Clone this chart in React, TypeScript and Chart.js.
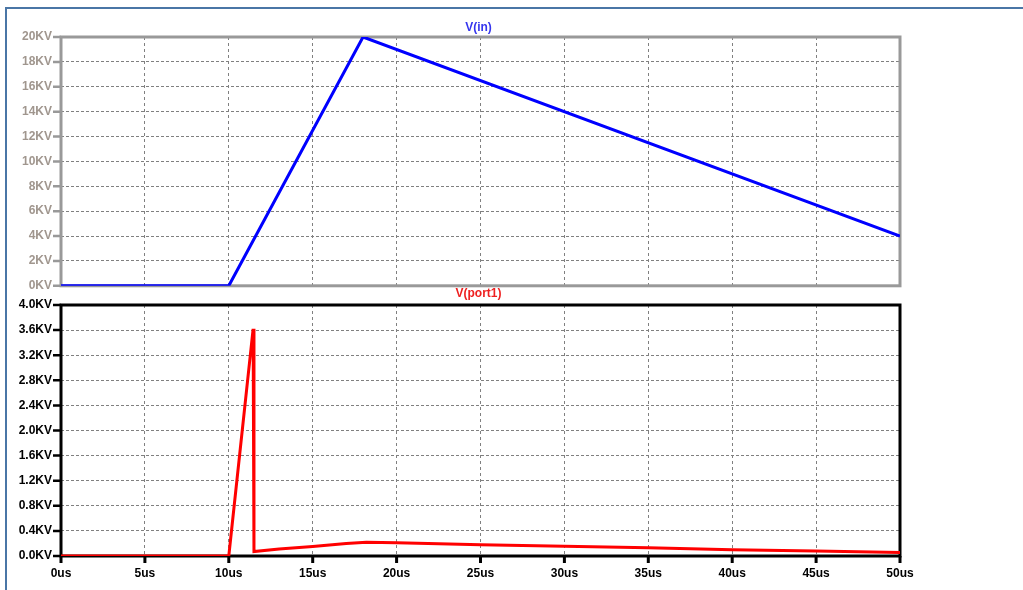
import React, { useEffect, useRef } from "react";
import { Chart, registerables } from "chart.js";

Chart.register(...registerables);

// ---- data ----
const timeIn = [0, 10, 18, 50];
const vIn = [0, 0, 20, 4];

const timePort = [0, 10, 11.45, 11.5, 13, 15, 17, 18.2, 20, 25, 30, 35, 40, 45, 50];
const vPort = [0, 0, 3.62, 0.07, 0.11, 0.15, 0.2, 0.22, 0.21, 0.18, 0.155, 0.13, 0.1, 0.08, 0.055];

const xMin = 0;
const xMax = 50;
const xStep = 5;
const inMax = 20;
const inStep = 2;
const portMax = 4;
const portStep = 0.4;

const titleIn = "V(in)";
const titlePort = "V(port1)";

const FONT = "'Liberation Sans', Arial, sans-serif";

function makeFramePlugin(opts: {
  axisColor: string;
  title: string;
  titleColor: string;
  titleOffset: number;
  xTicks: boolean;
}) {
  return {
    id: "frame",
    beforeDatasetsDraw(chart: any) {
      const { ctx, chartArea } = chart;
      const { left, right, top, bottom } = chartArea;
      ctx.save();
      ctx.strokeStyle = opts.axisColor;
      ctx.lineWidth = 3;
      ctx.lineCap = "butt";
      ctx.strokeRect(left, top, right - left, bottom - top);
      // y tick marks
      const ys = chart.scales.y;
      ctx.lineWidth = 2.5;
      ctx.beginPath();
      ys.ticks.forEach((t: any) => {
        const py = ys.getPixelForValue(t.value);
        ctx.moveTo(left - 8, py);
        ctx.lineTo(left, py);
      });
      ctx.stroke();
      if (opts.xTicks) {
        const xs = chart.scales.x;
        ctx.lineWidth = 3;
        ctx.beginPath();
        xs.ticks.forEach((t: any) => {
          const px = xs.getPixelForValue(t.value);
          ctx.moveTo(px, bottom);
          ctx.lineTo(px, bottom + 7);
        });
        ctx.stroke();
      }
      ctx.restore();
    },
    afterDraw(chart: any) {
      const { ctx, chartArea } = chart;
      ctx.save();
      ctx.font = `bold 12px ${FONT}`;
      ctx.fillStyle = opts.titleColor;
      ctx.textAlign = "center";
      ctx.textBaseline = "middle";
      ctx.fillText(opts.title, (chartArea.left + chartArea.right) / 2 - 2, chartArea.top - opts.titleOffset);
      ctx.restore();
    },
  };
}

function ChartPane(props: {
  top: number;
  height: number;
  times: number[];
  values: number[];
  yMax: number;
  yStep: number;
  yFmt: (v: number) => string;
  lineColor: string;
  axisColor: string;
  labelColor: string;
  title: string;
  titleColor: string;
  titleOffset: number;
  padTop: number;
  padBottom: number;
  showX: boolean;
}) {
  const ref = useRef<HTMLCanvasElement | null>(null);
  useEffect(() => {
    if (!ref.current) return;
    const pts = props.times.map((t, i) => ({ x: t, y: props.values[i] }));
    const chart = new Chart(ref.current, {
      type: "line",
      data: {
        datasets: [
          {
            data: pts,
            borderColor: props.lineColor,
            borderWidth: 3,
            pointRadius: 0,
            tension: 0,
            fill: false,
          },
        ],
      },
      options: {
        animation: false,
        responsive: false,
        devicePixelRatio: 1,
        parsing: false as any,
        layout: { padding: { left: 0, right: 123, top: props.padTop, bottom: props.padBottom } },
        plugins: { legend: { display: false }, tooltip: { enabled: false }, title: { display: false } },
        scales: {
          x: {
            type: "linear",
            min: xMin,
            max: xMax,
            grid: { color: "#808080", lineWidth: 1, drawTicks: false },
            border: { display: false, dash: [3, 3] },
            ticks: {
              display: props.showX,
              stepSize: xStep,
              padding: 10,
              color: "#000",
              font: { family: FONT, size: 12, weight: "bold" },
              maxRotation: 0,
              callback: (v: any) => `${v}us`,
            },
            afterFit: (s: any) => {
              s.height = props.showX ? 34 : 0;
            },
          },
          y: {
            type: "linear",
            min: 0,
            max: props.yMax,
            grid: { color: "#808080", lineWidth: 1, drawTicks: false },
            border: { display: false, dash: [3, 2] },
            ticks: {
              stepSize: props.yStep,
              padding: 9,
              color: props.labelColor,
              font: { family: FONT, size: 12, weight: "bold" },
              callback: (v: any) => props.yFmt(Number(v)),
            },
            afterFit: (s: any) => {
              s.width = 61;
            },
          },
        },
      },
      plugins: [
        makeFramePlugin({
          axisColor: props.axisColor,
          title: props.title,
          titleColor: props.titleColor,
          titleOffset: props.titleOffset,
          xTicks: props.showX,
        }),
      ],
    } as any);
    return () => chart.destroy();
  }, []);
  return (
    <canvas
      ref={ref}
      width={1023}
      height={props.height}
      style={{ position: "absolute", left: 0, top: props.top, width: 1023, height: props.height }}
    />
  );
}

export default function App() {
  return (
    <div
      style={{
        position: "absolute",
        left: 0,
        top: 0,
        width: 1023,
        height: 590,
        background: "#fff",
        overflow: "hidden",
      }}
    >
      <div style={{ position: "absolute", left: 5, top: 7, width: 1018, height: 2, background: "#4a76a6" }} />
      <div style={{ position: "absolute", left: 5, top: 7, width: 2, height: 583, background: "#4a76a6" }} />
      <ChartPane
        top={0}
        height={302}
        times={timeIn}
        values={vIn}
        yMax={inMax}
        yStep={inStep}
        yFmt={(v) => `${Math.round(v)}KV`}
        lineColor="#0000ff"
        axisColor="#999999"
        labelColor="#a0968e"
        title={titleIn}
        titleColor="#3535ee"
        titleOffset={9}
        padTop={37}
        padBottom={1}
        showX={false}
      />
      <ChartPane
        top={286}
        height={304}
        times={timePort}
        values={vPort}
        yMax={portMax}
        yStep={portStep}
        yFmt={(v) => `${v.toFixed(1)}KV`}
        lineColor="#ff0000"
        axisColor="#000000"
        labelColor="#000000"
        title={titlePort}
        titleColor="#ee2020"
        titleOffset={11}
        padTop={19}
        padBottom={0}
        showX={true}
      />
    </div>
  );
}
